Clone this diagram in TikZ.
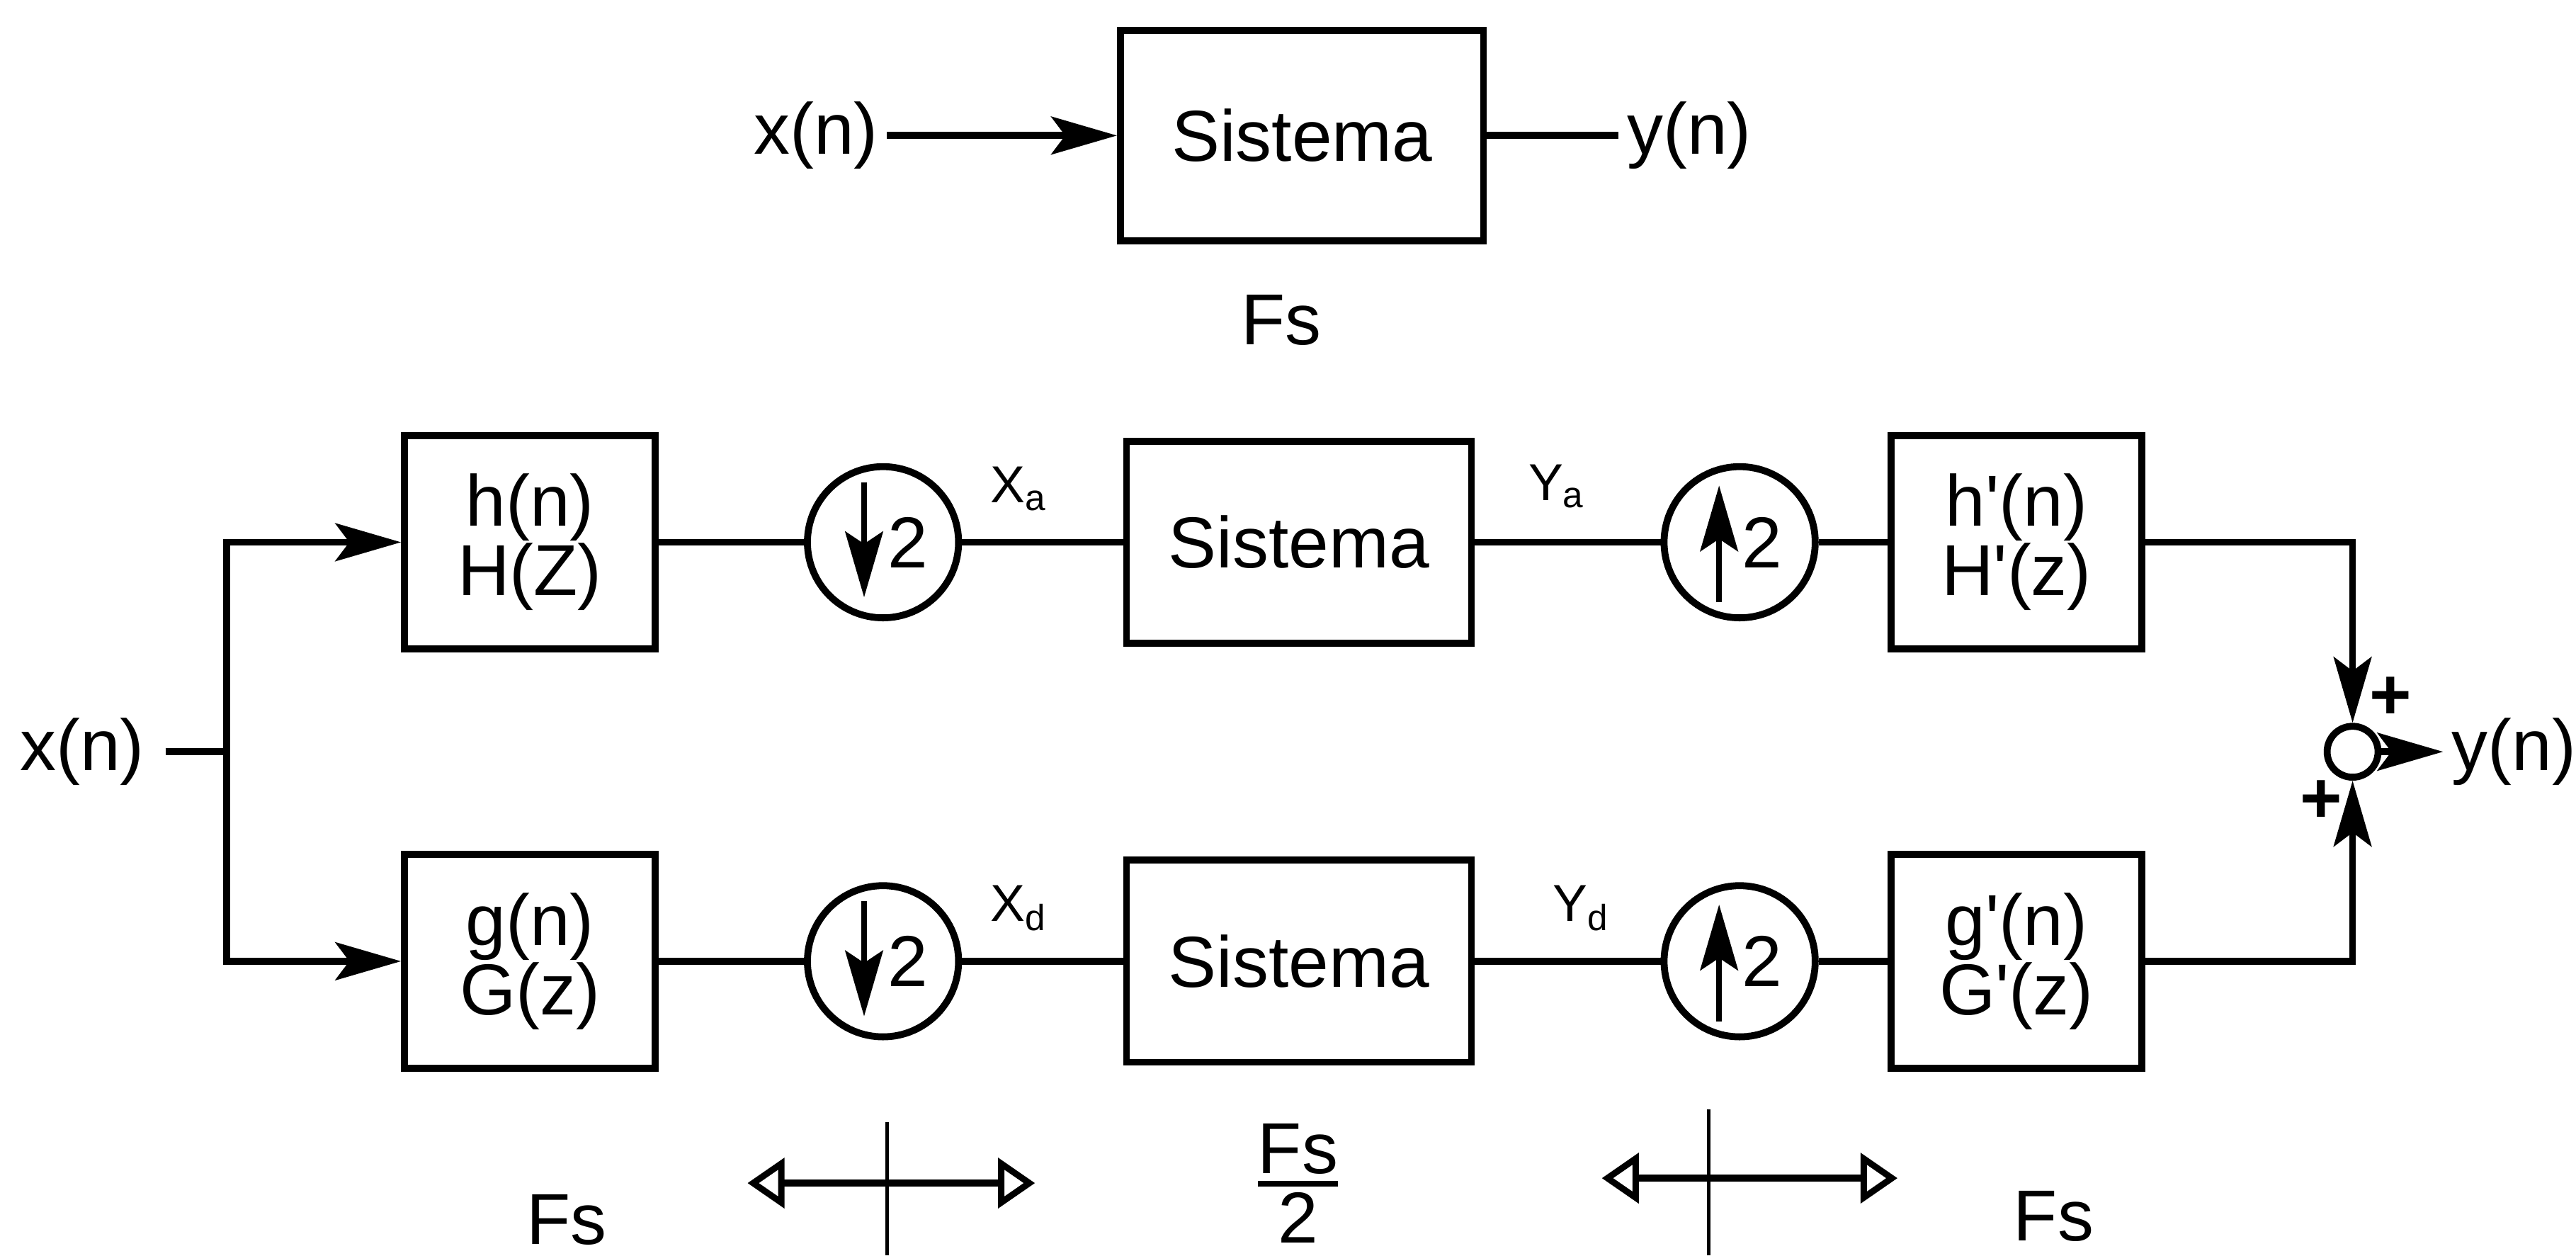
\documentclass[tikz,border=0pt]{standalone}
\usepackage{amsmath}
\usepackage{fontspec}
\setmainfont{Liberation Sans}
\usetikzlibrary{arrows.meta,positioning}

\begin{document}
\begin{tikzpicture}[
  font=\fontsize{25}{24}\selectfont,
  block/.style={rectangle,draw,line width=2.4pt,align=center,minimum width=3.05cm,minimum height=2.6cm},
  sysbox/.style={block,minimum width=4.2cm,minimum height=2.46cm},
  rate/.style={circle,draw,line width=2.4pt,minimum size=1.84cm,inner sep=0pt},
  adder/.style={circle,draw,line width=2.4pt,minimum size=0.62cm,inner sep=0pt},
  lbl/.style={inner sep=1mm},
  sig/.style={inner sep=1mm,font=\fontsize{18}{18}\selectfont},
  wire/.style={line width=2.4pt},
  arrow/.style={wire,-{Stealth[length=8mm,width=4.6mm,inset=1.7mm]}},
  inarrow/.style={line width=2pt,-{Stealth[length=8mm,width=4.6mm,inset=1.5mm]}},
  band/.style={line width=2.6pt,{Triangle[open,length=4.5mm,width=6mm,line width=2.2pt]}-{Triangle[open,length=4.5mm,width=6mm,line width=2.2pt]}},
  tick/.style={line width=1.2pt}
]
\useasboundingbox (0,0) rectangle (31.36,-15.28);

% sistema original
\node[sysbox,minimum width=4.42cm,minimum height=2.56cm] (sys) at (15.85,-1.65) {Sistema};
\node[lbl,left=2.8cm of sys] (xtop) {x(n)};
\node[lbl,right=1.6cm of sys] (ytop) {y(n)};
\node[lbl] (fstop) at (15.6,-3.9) {Fs};
\draw[arrow] (xtop) -- (sys);
\draw[wire] (sys) -- (ytop);

% rama superior
\node[block] (h) at (6.45,-6.6) {h(n)\\H(Z)};
\node[rate,right=1.77cm of h] (da) {};
\node[sysbox,right=1.96cm of da] (sysa) {Sistema};
\node[rate,right=2.26cm of sysa] (ua) {};
\node[block,right=0.84cm of ua] (hp) {h\textquotesingle(n)\\H\textquotesingle(z)};

% rama inferior
\node[block] (g) at (6.45,-11.7) {g(n)\\G(z)};
\node[rate,right=1.77cm of g] (db) {};
\node[sysbox,right=1.96cm of db] (sysd) {Sistema};
\node[rate,right=2.26cm of sysd] (ub) {};
\node[block,right=0.84cm of ub] (gp) {g\textquotesingle(n)\\G\textquotesingle(z)};

% diezmado e interpolado
\draw[inarrow] ([shift={(-0.23,0.73)}]da.center) -- ([shift={(-0.23,-0.67)}]da.center);
\node[lbl] (da2) at ([xshift=0.3cm]da.center) {2};
\draw[inarrow] ([shift={(-0.23,0.73)}]db.center) -- ([shift={(-0.23,-0.67)}]db.center);
\node[lbl] (db2) at ([xshift=0.3cm]db.center) {2};
\draw[inarrow] ([shift={(-0.25,-0.73)}]ua.center) -- ([shift={(-0.25,0.69)}]ua.center);
\node[lbl] (ua2) at ([xshift=0.27cm]ua.center) {2};
\draw[inarrow] ([shift={(-0.25,-0.73)}]ub.center) -- ([shift={(-0.25,0.69)}]ub.center);
\node[lbl] (ub2) at ([xshift=0.27cm]ub.center) {2};

\node[sig] (xa) at (12.4,-5.95) {X\textsubscript{a}};
\node[sig] (ya) at (18.95,-5.92) {Y\textsubscript{a}};
\node[sig] (xd) at (12.4,-11.05) {X\textsubscript{d}};
\node[sig] (yd) at (19.25,-11.05) {Y\textsubscript{d}};

% entrada y suma
\node[lbl,inner sep=2.5mm] (xin) at (1.0,-9.15) {x(n)};
\coordinate (split) at (2.76,-9.15);
\node[adder] (sum) at (28.64,-9.15) {};
\node[lbl,right=0.75cm of sum] (yout) {y(n)};
\node[lbl] (p1) at (29.1,-8.5) {\textbf{+}};
\node[lbl] (p2) at (28.26,-9.76) {\textbf{+}};

\draw[wire] (xin) -- (split);
\draw[arrow] (split) |- (h);
\draw[arrow] (split) |- (g);
\draw[wire] (h) -- (da);
\draw[wire] (da) -- (sysa);
\draw[wire] (sysa) -- (ua);
\draw[wire] (ua) -- (hp);
\draw[wire] (g) -- (db);
\draw[wire] (db) -- (sysd);
\draw[wire] (sysd) -- (ub);
\draw[wire] (ub) -- (gp);
\draw[arrow] (hp) -| (sum);
\draw[arrow] (gp) -| (sum);
\draw[arrow] (sum) -- (yout);

% frecuencias de muestreo
\node[lbl] (fsl) at (6.9,-14.85) {Fs};
\node[lbl] (fsm) at (15.8,-14.4) {$\genfrac{}{}{2pt}{1}{\mbox{Fs}}{\mbox{2}}$};
\node[lbl] (fsr) at (25.0,-14.8) {Fs};
\coordinate (bl1) at (9.1,-14.4);
\coordinate (bl2) at (12.6,-14.4);
\coordinate (br1) at (19.5,-14.34);
\coordinate (br2) at (23.1,-14.34);
\draw[band] (bl1) -- (bl2);
\draw[band] (br1) -- (br2);
\draw[tick] (10.8,-13.66) -- (10.8,-15.28);
\draw[tick] (20.8,-13.5) -- (20.8,-15.28);
\end{tikzpicture}
\end{document}
